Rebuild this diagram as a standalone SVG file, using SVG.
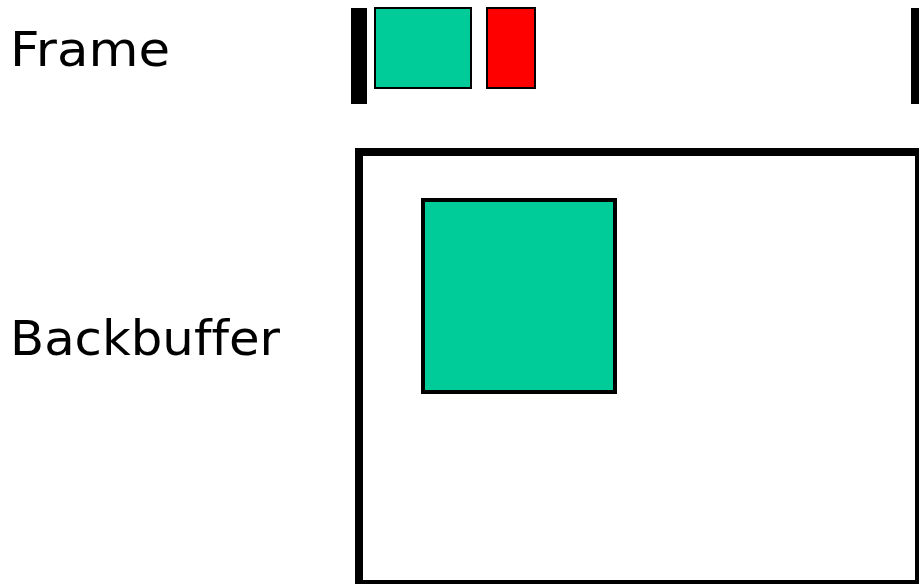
<svg xmlns="http://www.w3.org/2000/svg" width="919" height="584" viewBox="0 0 919 584">
<style>
.lbl{font-family:"DejaVu Sans",Verdana,sans-serif;font-size:48px;fill:#000;font-variant-ligatures:none}
.teal{fill:#00cc99;stroke:#000}
.bar{fill:#000}
</style>
<rect width="919" height="584" fill="#fff"/>
<g id="label-frame"><text class="lbl" x="10" y="66" textLength="160" lengthAdjust="spacingAndGlyphs">Frame</text></g>
<g id="label-backbuffer"><text class="lbl" x="10" y="355" textLength="270" lengthAdjust="spacingAndGlyphs">Backbuffer</text></g>
<g id="frame-strip">
<rect class="bar" x="351" y="8" width="16" height="96"/>
<rect class="bar" x="911" y="8" width="16" height="96"/>
</g>
<g id="frame-teal"><rect class="teal" x="375" y="8" width="96" height="80" stroke-width="2"/></g>
<g id="frame-red"><rect x="487" y="8" width="48" height="80" fill="#ff0000" stroke="#000" stroke-width="2"/></g>
<g id="backbuffer"><rect x="359" y="152" width="560" height="432" fill="none" stroke="#000" stroke-width="8"/></g>
<g id="backbuffer-teal"><rect class="teal" x="423" y="200" width="192" height="192" stroke-width="4"/></g>
<g id="connectors"></g>
</svg>
